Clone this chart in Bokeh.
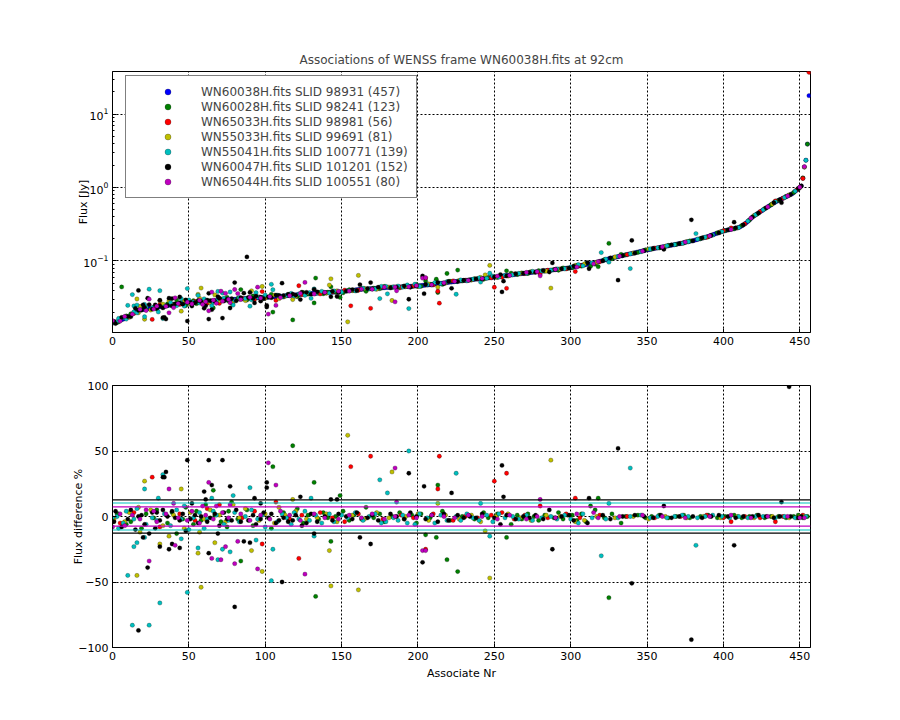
from bokeh.plotting import figure
from bokeh.models import Range1d, FixedTicker, Legend, LegendItem, Span
from bokeh.layouts import column
from bokeh.embed import file_html
from bokeh.resources import INLINE

TITLE = "Associations of WENSS frame WN60038H.fits at 92cm"
FONT = "DejaVu Sans"

# Reference series (WN60038H) flux per associate index [Jy]
ref_flux = [
    0.0142, 0.0144, 0.0146, 0.0148, 0.0151, 0.0155, 0.0158, 0.0161, 0.0164, 0.0168,
    0.0171, 0.0176, 0.0183, 0.0190, 0.0198, 0.0206, 0.0209, 0.0212, 0.0214, 0.0216,
    0.0218, 0.0220, 0.0222, 0.0224, 0.0225, 0.0226, 0.0228, 0.0230, 0.0232, 0.0233,
    0.0235, 0.0237, 0.0239, 0.0241, 0.0243, 0.0245, 0.0247, 0.0249, 0.0252, 0.0254,
    0.0257, 0.0258, 0.0259, 0.0260, 0.0261, 0.0262, 0.0263, 0.0264, 0.0265, 0.0266,
    0.0267, 0.0268, 0.0270, 0.0271, 0.0272, 0.0273, 0.0274, 0.0276, 0.0277, 0.0278,
    0.0280, 0.0281, 0.0282, 0.0283, 0.0284, 0.0285, 0.0286, 0.0287, 0.0288, 0.0289,
    0.0290, 0.0291, 0.0292, 0.0293, 0.0294, 0.0295, 0.0296, 0.0297, 0.0298, 0.0299,
    0.0300, 0.0301, 0.0302, 0.0303, 0.0304, 0.0305, 0.0306, 0.0307, 0.0308, 0.0309,
    0.0310, 0.0311, 0.0312, 0.0312, 0.0313, 0.0314, 0.0315, 0.0315, 0.0316, 0.0316,
    0.0317, 0.0318, 0.0320, 0.0321, 0.0322, 0.0324, 0.0325, 0.0326, 0.0328, 0.0329,
    0.0330, 0.0332, 0.0333, 0.0335, 0.0336, 0.0338, 0.0339, 0.0341, 0.0342, 0.0344,
    0.0345, 0.0347, 0.0348, 0.0350, 0.0351, 0.0353, 0.0354, 0.0356, 0.0357, 0.0359,
    0.0360, 0.0361, 0.0362, 0.0363, 0.0364, 0.0365, 0.0366, 0.0367, 0.0368, 0.0369,
    0.0370, 0.0371, 0.0372, 0.0373, 0.0374, 0.0375, 0.0376, 0.0377, 0.0378, 0.0379,
    0.0380, 0.0383, 0.0385, 0.0388, 0.0390, 0.0393, 0.0395, 0.0398, 0.0401, 0.0403,
    0.0406, 0.0407, 0.0409, 0.0410, 0.0412, 0.0413, 0.0414, 0.0416, 0.0417, 0.0419,
    0.0420, 0.0421, 0.0423, 0.0424, 0.0426, 0.0427, 0.0429, 0.0430, 0.0432, 0.0433,
    0.0435, 0.0436, 0.0437, 0.0438, 0.0439, 0.0440, 0.0441, 0.0442, 0.0443, 0.0444,
    0.0445, 0.0446, 0.0447, 0.0448, 0.0449, 0.0451, 0.0452, 0.0453, 0.0454, 0.0456,
    0.0457, 0.0459, 0.0461, 0.0463, 0.0465, 0.0468, 0.0470, 0.0472, 0.0475, 0.0477,
    0.0480, 0.0483, 0.0486, 0.0489, 0.0492, 0.0495, 0.0498, 0.0501, 0.0504, 0.0507,
    0.0510, 0.0513, 0.0516, 0.0519, 0.0522, 0.0525, 0.0528, 0.0531, 0.0534, 0.0537,
    0.0540, 0.0543, 0.0546, 0.0549, 0.0552, 0.0555, 0.0558, 0.0561, 0.0564, 0.0567,
    0.0570, 0.0573, 0.0576, 0.0579, 0.0582, 0.0585, 0.0588, 0.0591, 0.0594, 0.0597,
    0.0600, 0.0604, 0.0608, 0.0612, 0.0616, 0.0620, 0.0624, 0.0628, 0.0632, 0.0636,
    0.0640, 0.0644, 0.0648, 0.0652, 0.0656, 0.0660, 0.0664, 0.0668, 0.0672, 0.0676,
    0.0680, 0.0684, 0.0688, 0.0692, 0.0696, 0.0700, 0.0704, 0.0708, 0.0712, 0.0716,
    0.0720, 0.0724, 0.0728, 0.0732, 0.0736, 0.0740, 0.0744, 0.0748, 0.0752, 0.0756,
    0.0760, 0.0765, 0.0770, 0.0775, 0.0780, 0.0785, 0.0790, 0.0795, 0.0800, 0.0805,
    0.0810, 0.0818, 0.0826, 0.0834, 0.0842, 0.0850, 0.0858, 0.0866, 0.0874, 0.0882,
    0.0890, 0.0900, 0.0910, 0.0920, 0.0930, 0.0940, 0.0950, 0.0960, 0.0970, 0.0985,
    0.100, 0.101, 0.103, 0.104, 0.105, 0.107, 0.108, 0.109, 0.111, 0.112,
    0.113, 0.114, 0.116, 0.117, 0.118, 0.120, 0.121, 0.122, 0.124, 0.125,
    0.126, 0.128, 0.129, 0.131, 0.132, 0.134, 0.135, 0.137, 0.138, 0.140,
    0.141, 0.142, 0.144, 0.145, 0.147, 0.148, 0.149, 0.151, 0.152, 0.154,
    0.155, 0.156, 0.158, 0.159, 0.161, 0.162, 0.164, 0.165, 0.167, 0.168,
    0.170, 0.172, 0.173, 0.175, 0.177, 0.179, 0.181, 0.183, 0.185, 0.187,
    0.188, 0.191, 0.193, 0.196, 0.199, 0.201, 0.204, 0.207, 0.210, 0.212,
    0.215, 0.219, 0.223, 0.227, 0.231, 0.235, 0.239, 0.243, 0.247, 0.251,
    0.255, 0.258, 0.261, 0.264, 0.267, 0.270, 0.273, 0.276, 0.279, 0.282,
    0.285, 0.292, 0.300, 0.310, 0.320, 0.330, 0.345, 0.360, 0.378, 0.395,
    0.410, 0.424, 0.438, 0.452, 0.466, 0.480, 0.496, 0.512, 0.528, 0.544,
    0.560, 0.578, 0.596, 0.614, 0.632, 0.650, 0.666, 0.682, 0.698, 0.714,
    0.730, 0.748, 0.766, 0.784, 0.802, 0.820, 0.853, 0.886, 0.920, 0.960,
    1.00, 1.05, 1.34, 1.90, 2.35, 3.90, 17.8,
]

# Other frames: (associate index, flux difference %)
green_pts = [
    (3, 2), (4, 2), (42, -13), (66, 20), (76, 4), (84, -34), (105, 38), (118, 54), (132, 26), (133, -61),
    (143, -19), (149, 16), (205, -14), (212, -16), (213, 24), (219, -33), (226, -42), (258, -16), (316, 5), (318, 14),
    (325, -62),
    (0, -3), (6, -180), (9, -6), (12, -4), (19, -9), (22, 2), (27, -1), (29, 5), (36, -5), (39, 3),
    (46, -2), (48, 7), (53, -6), (55, 4), (58, -3), (61, 9), (67, 1), (71, -4), (75, -8), (78, 11),
    (82, -2), (88, 5), (92, -7), (99, 2), (104, -9), (112, 3), (115, -1), (121, 6), (125, -5), (128, 1),
    (135, -2), (138, 3), (141, -1), (146, 0), (151, 4), (155, -3), (158, 1), (163, -2), (166, 7), (171, -1),
    (175, 2), (178, -4), (183, 0), (188, 3), (191, -2), (196, 1), (199, -5), (202, 2), (208, -1), (216, 4),
    (221, -3), (229, 0), (233, 1), (237, -2), (243, 3), (246, -1), (252, 2), (261, -6), (265, 1), (268, -2),
    (272, 2), (276, 0), (279, -3), (283, 1), (289, -1), (292, 3), (295, -2), (298, 1),
    (301, 1), (304, -3), (307, 2), (310, -4), (313, 8), (322, -1), (327, 2), (333, -5), (336, 0), (344, 1),
    (349, -1), (353, 0), (358, 1), (364, -1), (369, 0), (374, 1), (378, -1), (385, 0), (390, 1), (396, -1),
    (401, 0), (407, 1), (412, -1), (417, 0), (422, 1), (427, -1), (431, 0), (436, 0), (441, -1), (446, 0),
    (449, 1), (452, -1), (455, 0),
]
red_pts = [
    (26, 30), (70, 9), (98, -21), (107, 11), (122, -32), (156, 38), (169, 46), (205, -25), (213, 21), (214, 46),
    (250, 27), (258, 33), (280, 8), (303, 14), (405, -4), (434, -4),
    (5, -5), (14, 3), (31, -8), (44, 2), (54, -3), (62, 6), (85, -1), (93, 4), (116, -2), (124, 1),
    (136, 3), (144, -1), (152, -4), (161, 2), (177, -2), (189, 1), (197, -1), (210, 2), (223, -3), (231, 0),
    (239, -1), (248, 1), (255, 3), (263, -2), (270, 1), (285, -1), (297, 2), (306, -1), (319, 1), (337, 0),
    (355, -1), (372, 0), (389, 1), (400, -1), (414, 0), (424, -1), (439, 0), (448, -1), (452, 1), (456, -108),
]
yellow_pts = [
    (17, 7), (16, -45), (21, 27), (31, -21), (37, -15), (45, 21), (56, -28), (58, -54), (57, -12), (67, -20),
    (79, 9), (91, -26), (98, -42), (109, 7), (118, 13), (142, -26), (143, -53), (154, 62), (161, -56), (183, 34),
    (213, 10), (244, -11), (247, -47), (287, 43),
    (1, -2), (8, -4), (11, 3), (18, -12), (25, 5), (33, -7), (40, 1), (47, -9), (51, 3), (60, -2),
    (64, 5), (70, 1), (74, -4), (83, -1), (87, 6), (96, -3), (100, 2), (106, -5), (113, 1), (120, 4),
    (127, -2), (134, -1), (140, 2), (147, -4), (157, 1), (165, -2), (173, 3), (181, -1), (192, 0), (200, 2),
    (207, -3), (218, 1), (227, -2), (235, 1), (241, -4), (251, 0), (259, 2), (267, -1), (274, -3), (284, 1),
    (293, 0), (303, -4), (309, -3), (317, 0), (329, -1), (341, 0), (351, -2), (362, 0), (376, -1), (387, 0),
    (398, -1), (409, 0), (420, -1), (432, 0), (443, -1), (450, 0), (453, 0),
]
cyan_pts = [
    (10, -45), (13, -83), (14, -23), (16, -20), (21, 21), (21, -16), (24, -83), (30, 14), (31, -66), (33, 32),
    (45, -17), (49, -58), (56, -24), (65, 14), (69, -33), (72, -25), (77, -27), (79, 16), (90, 22), (94, -18),
    (104, -49), (105, -25), (130, 14), (132, -15), (175, 28), (180, 18), (194, 50), (225, 33), (241, 10), (247, -15),
    (320, -30), (325, 10), (339, 37), (382, -22),
    (0, -1), (3, 0), (4, -9), (7, -5), (9, 4), (14, -2), (16, 6), (22, -6), (26, -1), (29, -3),
    (34, 2), (38, -7), (42, 5), (45, -2), (47, 8), (50, -10), (53, -1), (57, 3), (60, -9), (62, -2),
    (66, 4), (68, 1), (73, -6), (76, -3), (80, 3), (83, -4), (87, 0), (91, 5), (95, -2), (98, 1),
    (100, -8), (108, -4), (111, 2), (114, -1), (117, -6), (119, 3), (122, -2), (126, 4), (129, -3), (133, 1),
    (137, -5), (142, 2), (145, -4), (150, 1), (154, -1), (159, 3), (164, -3), (168, 0), (172, 2), (176, -5),
    (179, -4), (184, -1), (187, -3), (190, 1), (193, -5), (198, -6), (201, 2), (206, -1), (211, -5), (215, 1),
    (219, -3), (225, 0), (228, -3), (232, 2), (236, -1), (240, -3), (245, 1), (249, -4), (253, 2), (257, -1),
    (262, 0), (266, -2), (271, 1), (275, -3), (281, -1), (287, 0), (291, -2), (296, 1), (300, -2), (305, -5),
    (308, 2), (314, -1), (323, -2), (331, -1), (339, 0), (346, 1), (352, -1), (357, 0), (363, -1), (368, 0),
    (373, 1), (377, 0), (383, -1), (388, 0), (393, 1), (399, 0), (404, -1), (410, 0), (416, -1), (421, 0),
    (426, 0), (434, -1), (440, 0), (447, -1), (454, 0),
]
black_pts = [
    (17, -87), (17, 0), (20, -16), (23, -39), (24, -13), (29, 3), (31, -23), (33, 5), (33, 30), (34, 30),
    (35, 34), (37, -25), (39, -21), (44, -24), (49, 43), (52, 10), (60, 19), (61, 13), (63, 43), (63, -28),
    (65, 24), (69, -13), (72, 43), (77, 23), (80, -69), (86, -19), (90, -20), (93, 14), (97, 10), (101, 26),
    (101, 22), (111, -50), (123, 15), (132, -13), (143, 13), (147, 13), (162, -16), (169, -21), (194, 33), (203, -35),
    (204, 23), (222, 18), (255, 39), (256, 15), (288, -25), (312, 14), (331, 52), (340, -51), (361, 8), (379, -94),
    (407, -22), (438, 11), (443, 99),
    (1, -4), (2, 4), (6, -8), (10, -2), (12, 5), (15, -10), (19, 1), (21, -6), (26, 3), (28, -9),
    (31, -3), (36, 0), (39, 4), (41, -1), (44, -3), (46, 2), (48, -11), (51, -2), (54, 1), (56, -5),
    (58, 0), (62, -4), (64, -1), (67, 2), (70, -7), (73, 3), (75, -2), (78, -3), (81, 5), (84, -4),
    (88, -268), (89, -3), (92, 1), (94, -6), (97, -2), (99, 3), (102, -1), (104, 2), (107, -5), (109, -3),
    (112, -1), (115, -4), (118, -3), (120, 1), (124, -7), (127, -5), (130, 2), (134, -4), (139, 0), (144, -3),
    (148, 2), (153, 0), (157, -2), (160, 3), (167, -1), (170, 1), (174, -3), (182, 2), (186, 0), (191, -2),
    (195, 3), (199, 0), (205, -2), (209, 1), (213, -4), (217, 2), (220, -3), (226, 1), (230, -1), (234, 0),
    (238, -1), (242, 2), (250, -1), (254, -6), (258, 1), (264, -2), (269, 0), (273, -1), (277, 1), (282, -2),
    (286, 5), (290, -1), (294, 0), (299, 1), (302, -3), (311, -5), (321, 1), (326, -2), (334, 0), (342, 1),
    (348, 0), (354, -1), (359, 1), (366, -1), (371, 0), (380, 0), (386, -1), (392, 0), (397, 1), (403, 0),
    (408, -1), (413, 0), (419, 0), (423, 1), (428, 0), (433, -1), (437, 0), (444, 0), (449, -1), (451, 0),
]
magenta_pts = [
    (24, -34), (27, 4), (37, 21), (40, 10), (41, -22), (59, 8), (63, 26), (65, -32), (68, 8), (71, -33),
    (74, -23), (77, 9), (80, -36), (82, -19), (95, -40), (102, 41), (107, 24), (126, -44), (185, 37), (186, 11),
    (203, -26), (205, -26), (280, 13), (315, 3),
    (0, -8), (5, 2), (8, -7), (13, 1), (18, -2), (22, 5), (29, -4), (35, 2), (43, -1), (49, -3),
    (52, 4), (57, -5), (61, 1), (66, -2), (72, 3), (76, -1), (84, 2), (90, -3), (97, 1), (103, -2),
    (110, 4), (116, 1), (123, -3), (132, 2), (139, -1), (148, -2), (155, 1), (163, -1), (170, 2), (178, -2),
    (185, 0), (194, 1), (199, -1), (209, 1), (217, 0), (224, -1), (233, 1), (242, 0), (252, -2), (260, 1),
    (271, -2), (278, 0), (290, -1), (304, 2), (318, -1), (332, 0), (347, 1), (360, 0), (375, -1), (391, 0),
    (405, 1), (418, -1), (429, 0), (442, 0), (450, -1), (453, -1),
]

ref_label = "WN60038H.fits SLID 98931 (457)"
other_labels = [
    "WN60028H.fits SLID 98241 (123)",
    "WN65033H.fits SLID 98981 (56)",
    "WN55033H.fits SLID 99691 (81)",
    "WN55041H.fits SLID 100771 (139)",
    "WN60047H.fits SLID 101201 (152)",
    "WN65044H.fits SLID 100551 (80)",
]
ref_color = "#0000ff"
other_colors = ["#008000", "#ff0000", "#bfbf00", "#00bfbf", "#000000", "#bf00bf"]
other_series = [green_pts, red_pts, yellow_pts, cyan_pts, black_pts, magenta_pts]

# horizontal reference levels in the difference panel (+/-)
band_levels = [12.7, 10.3, 7.3]
band_colors = ["#000000", "#00bfbf", "#bf00bf"]

x_ticks = [0, 50, 100, 150, 200, 250, 300, 350, 400, 450]
diff_ticks = [-100, -50, 0, 50, 100]
X_MAX = 457
PT = 4.3


def style_axis(ax, minor=False, label_standoff=4):
    ax.major_tick_in = 4
    ax.major_tick_out = 0
    ax.minor_tick_in = 2 if minor else 0
    ax.minor_tick_out = 0
    ax.axis_line_color = "black"
    ax.major_tick_line_color = "black"
    ax.minor_tick_line_color = "black"
    ax.major_label_text_font = FONT
    ax.major_label_text_font_size = "11px"
    ax.major_label_text_color = "black"
    ax.major_label_standoff = 4
    ax.axis_label_text_font = FONT
    ax.axis_label_text_font_size = "11px"
    ax.axis_label_text_font_style = "normal"
    ax.axis_label_text_color = "black"
    ax.axis_label_standoff = label_standoff


def style_fig(p):
    p.outline_line_color = "black"
    p.outline_line_width = 1
    p.background_fill_color = "white"
    p.border_fill_color = "white"
    p.grid.grid_line_color = "black"
    p.grid.grid_line_dash = "2 2"
    p.grid.grid_line_width = 1
    p.grid.grid_line_alpha = 1.0


# ---------------- top panel ----------------
p1 = figure(frame_width=698, frame_height=261, y_axis_type="log",
            x_range=Range1d(0, X_MAX), y_range=Range1d(0.0106, 38),
            output_backend="svg", toolbar_location=None, title=TITLE,
            min_border_left=112, min_border_right=80, min_border_top=71, min_border_bottom=25)
style_fig(p1)
p1.title.text_font = FONT
p1.title.text_font_size = "12px"
p1.title.text_font_style = "normal"
p1.title.align = "center"
p1.xaxis.ticker = FixedTicker(ticks=x_ticks)
p1.xgrid.ticker = FixedTicker(ticks=x_ticks)
style_axis(p1.xaxis[0])
style_axis(p1.yaxis[0], minor=True, label_standoff=-10)
p1.yaxis.axis_label = "Flux [Jy]"

legend_items = []
ref_x = list(range(len(ref_flux)))
r = p1.scatter(ref_x, ref_flux, size=PT, fill_color=ref_color, line_color="black",
               line_width=0.5, line_alpha=0.5)
legend_items.append(LegendItem(label=ref_label, renderers=[r]))

for pts, col, lab in zip(other_series, other_colors, other_labels):
    xs, ys = [], []
    for i, d in pts:
        if i < len(ref_flux) and d < 100:
            xs.append(i)
            ys.append(ref_flux[i] * (1 - d / 100.0))
    r = p1.scatter(xs, ys, size=PT, fill_color=col, line_color="black",
                   line_width=0.5, line_alpha=0.5)
    legend_items.append(LegendItem(label=lab, renderers=[r]))

legend = Legend(items=legend_items, location=(13, 134))
legend.label_text_font = FONT
legend.label_text_font_size = "12px"
legend.label_height = 15
legend.glyph_height = 15
legend.glyph_width = 67
legend.label_standoff = 0
legend.spacing = 0
legend.padding = 8
legend.border_line_color = "black"
legend.border_line_width = 1
legend.background_fill_color = "white"
legend.background_fill_alpha = 1.0
p1.add_layout(legend)

# ---------------- bottom panel ----------------
p2 = figure(frame_width=698, frame_height=262,
            x_range=Range1d(0, X_MAX), y_range=Range1d(-100, 100),
            output_backend="svg", toolbar_location=None,
            min_border_left=112, min_border_right=80, min_border_top=28, min_border_bottom=40)
style_fig(p2)
p2.xaxis.ticker = FixedTicker(ticks=x_ticks)
p2.xgrid.ticker = FixedTicker(ticks=x_ticks)
p2.yaxis.ticker = FixedTicker(ticks=diff_ticks)
p2.ygrid.ticker = FixedTicker(ticks=diff_ticks)
style_axis(p2.xaxis[0])
style_axis(p2.yaxis[0], label_standoff=-10)
p2.xaxis.axis_label = "Associate Nr"
p2.yaxis.axis_label = "Flux difference %"

for pts, col in zip(other_series, other_colors):
    xs = [i for i, d in pts]
    ds = [d for i, d in pts]
    p2.scatter(xs, ds, size=PT, fill_color=col, line_color="black",
               line_width=0.5, line_alpha=0.5)

for lev, col in zip(band_levels, band_colors):
    for sgn in (1, -1):
        p2.add_layout(Span(location=sgn * lev, dimension="width",
                           line_color=col, line_width=1.2))

layout = column(p1, p2, spacing=0)
open("out.html", "w").write(file_html(layout, INLINE))
